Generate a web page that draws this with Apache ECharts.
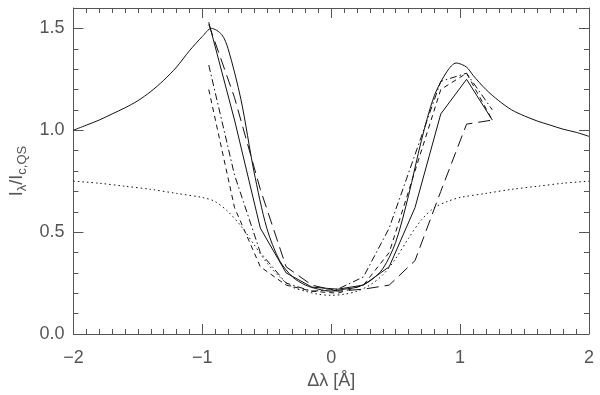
<!DOCTYPE html>
<html>
<head>
<meta charset="utf-8">
<script src="https://cdn.jsdelivr.net/npm/echarts@6/dist/echarts.min.js"></script>
<style>
  html, body { margin: 0; padding: 0; background: #fff; }
  #chart { width: 600px; height: 395px; }
</style>
</head>
<body>
<div id="chart"></div>
<script>
// theoretical profiles, full range
const modelX = [-2.0, -1.9, -1.8, -1.7, -1.6, -1.5, -1.4, -1.3, -1.2, -1.1, -1.0, -0.93, -0.85, -0.8, -0.7, -0.6, -0.5, -0.4, -0.3, -0.2, -0.1, 0.0,
  0.1, 0.2, 0.3, 0.4, 0.5, 0.6, 0.7, 0.8, 0.9, 0.97, 1.05, 1.1, 1.2, 1.3, 1.4, 1.5, 1.6, 1.7, 1.8, 1.9, 2.0];
const modelSolid = [1.00, 1.025, 1.05, 1.08, 1.11, 1.145, 1.19, 1.245, 1.31, 1.39, 1.46, 1.50, 1.47, 1.40, 1.15, 0.80, 0.52, 0.36, 0.28, 0.24, 0.22, 0.21,
  0.22, 0.23, 0.26, 0.32, 0.45, 0.68, 0.95, 1.17, 1.29, 1.33, 1.31, 1.27, 1.20, 1.145, 1.10, 1.07, 1.045, 1.025, 1.005, 0.99, 0.97];
const modelDotX = [-2.0, -1.8, -1.6, -1.4, -1.2, -1.0, -0.9, -0.8, -0.7, -0.6, -0.5, -0.4, -0.3, -0.2, -0.1, 0.0,
  0.1, 0.2, 0.3, 0.4, 0.5, 0.6, 0.7, 0.8, 0.9, 1.0, 1.2, 1.4, 1.6, 1.8, 2.0];
const modelDotted = [0.75, 0.74, 0.725, 0.71, 0.69, 0.67, 0.65, 0.60, 0.53, 0.44, 0.35, 0.28, 0.23, 0.21, 0.195, 0.19,
  0.195, 0.21, 0.24, 0.29, 0.37, 0.47, 0.56, 0.62, 0.65, 0.67, 0.69, 0.71, 0.725, 0.74, 0.75];

// observed profiles
const obsX = [-0.95, -0.75, -0.55, -0.35, -0.15, 0.05, 0.25, 0.45, 0.65, 0.85, 1.05, 1.25];
const obsSolid = [1.53, 1.05, 0.52, 0.30, 0.23, 0.22, 0.24, 0.33, 0.62, 1.08, 1.25, 1.05];
const obsLongDash = [1.52, 1.16, 0.71, 0.33, 0.24, 0.21, 0.22, 0.24, 0.36, 0.70, 1.03, 1.05];
const obsDashDot = [1.32, 0.78, 0.40, 0.25, 0.21, 0.22, 0.28, 0.52, 0.88, 1.24, 1.28, 1.10];
const obsDashed = [1.20, 0.62, 0.33, 0.24, 0.21, 0.20, 0.24, 0.40, 0.80, 1.20, 1.28, 1.05];

const xTicks = [-2, -1, 0, 1, 2];
const yTicks = [0.0, 0.5, 1.0, 1.5];

const pairs = (xs, ys) => xs.map((x, i) => [x, ys[i]]);

const chart = echarts.init(document.getElementById('chart'));

const ink = '#111';
const axisInk = '#555';
const labelStyle = { color: '#555', fontSize: 18, fontFamily: 'Liberation Sans' };

function line(name, xs, ys, type, smooth) {
  return {
    name: name,
    type: 'line',
    data: pairs(xs, ys),
    showSymbol: false,
    smooth: smooth || false,
    lineStyle: { color: ink, width: 1, type: type },
    xAxisIndex: 0,
    yAxisIndex: 0,
    silent: true
  };
}

// frame axis with inward ticks, like the IDL box
// (labels stay "shown" but empty, otherwise the ticks are dropped)
function frameAxis(position, max, interval, tickLen, showLine, extra) {
  return Object.assign({
    type: 'value',
    min: position === 'bottom' || position === 'top' ? -2 : 0,
    max: max,
    interval: interval,
    position: position,
    axisLine: { show: showLine, onZero: false, lineStyle: { color: axisInk, width: 1 } },
    axisTick: { show: true, inside: true, length: tickLen, lineStyle: { color: axisInk, width: 1 } },
    splitLine: { show: false },
    axisLabel: { show: true, formatter: () => '' }
  }, extra || {});
}

const option = {
  animation: false,
  grid: { left: 72, right: 7, top: 4, bottom: 58 },
  xAxis: [
    frameAxis('bottom', 2, 1, 10, true, {
      minorTick: { show: true, splitNumber: 10, length: 5, lineStyle: { color: axisInk } },
      axisLabel: {
        ...labelStyle, margin: 15,
        formatter: v => xTicks.includes(v) ? String(v).replace('-', '\u2212') : ''
      },
      name: '{n|\u0394\u03bb [\u00c5]}',
      nameLocation: 'middle', nameGap: 38,
      nameTextStyle: { rich: { n: { ...labelStyle } } }
    }),
    frameAxis('top', 2, 1, 10, true, {
      minorTick: { show: true, splitNumber: 10, length: 5, lineStyle: { color: axisInk } }
    })
  ],
  yAxis: [
    frameAxis('left', 1.6, 0.5, 10, true, {
      axisLabel: {
        ...labelStyle, margin: 9, showMaxLabel: false,
        formatter: v => yTicks.some(t => Math.abs(t - v) < 1e-6) ? v.toFixed(1) : ''
      },
      name: '{b|I}{s|\u03bb}{b|/I}{s|c,QS}',
      nameLocation: 'middle', nameRotate: 90, nameGap: 44,
      nameTextStyle: {
        rich: {
          b: { ...labelStyle, fontSize: 18 },
          s: { ...labelStyle, fontSize: 13, padding: [10, 0, 0, 0] }
        }
      }
    }),
    frameAxis('left', 1.6, 0.1, 5, false),
    frameAxis('right', 1.6, 0.5, 10, true),
    frameAxis('right', 1.6, 0.1, 5, false)
  ],
  series: [
    line('model', modelX, modelSolid, 'solid', 0.3),
    line('model dotted', modelDotX, modelDotted, [1.5, 3], 0.3),
    line('obs solid', obsX, obsSolid, 'solid'),
    line('obs long dash', obsX, obsLongDash, [12, 6]),
    line('obs dash dot', obsX, obsDashDot, [7, 3, 1.5, 3]),
    line('obs dashed', obsX, obsDashed, [5, 4])
  ]
};

chart.setOption(option);
</script>
</body>
</html>
